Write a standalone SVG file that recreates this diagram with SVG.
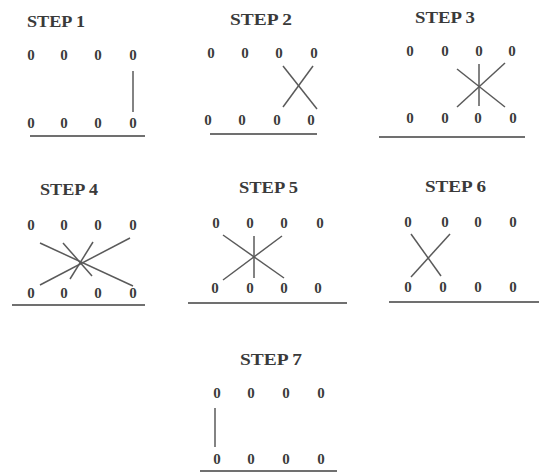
<svg xmlns="http://www.w3.org/2000/svg" width="539" height="472" viewBox="0 0 539 472">
  <style>
    .title { font-family: "Liberation Serif", "Times New Roman", serif; font-weight: bold; font-size: 16px; fill: #3a3a3a; }
    .z { font-family: "Liberation Serif", "Times New Roman", serif; font-weight: bold; font-size: 15px; fill: #3c3c3c; text-anchor: middle; }
    .ln { stroke: #5a5a5a; stroke-width: 1.5; fill: none; }
    .base { stroke: #707070; stroke-width: 2; fill: none; }
  </style>
  <rect width="539" height="472" fill="#fff"/>

  <!-- Step 1 -->
  <g id="step1">
    <text class="title" x="27" y="27" textLength="58" lengthAdjust="spacingAndGlyphs">STEP 1</text>
    <text class="z" x="31" y="60">0</text><text class="z" x="64" y="60">0</text><text class="z" x="98" y="60">0</text><text class="z" x="133" y="60">0</text>
    <text class="z" x="31" y="128">0</text><text class="z" x="64" y="128">0</text><text class="z" x="98" y="128">0</text><text class="z" x="133" y="128">0</text>
    <line class="base" x1="30" y1="136" x2="145" y2="136"/>
  </g>

  <!-- Step 2 -->
  <g id="step2">
    <text class="title" x="230" y="25" textLength="62" lengthAdjust="spacingAndGlyphs">STEP 2</text>
    <text class="z" x="211" y="58">0</text><text class="z" x="245" y="58">0</text><text class="z" x="279" y="58">0</text><text class="z" x="314" y="58">0</text>
    <text class="z" x="208" y="125">0</text><text class="z" x="242" y="125">0</text><text class="z" x="277" y="125">0</text><text class="z" x="311" y="125">0</text>
    <line class="base" x1="210" y1="134" x2="317" y2="134"/>
  </g>

  <!-- Step 3 -->
  <g id="step3">
    <text class="title" x="415" y="23" textLength="60" lengthAdjust="spacingAndGlyphs">STEP 3</text>
    <text class="z" x="410" y="56">0</text><text class="z" x="445" y="56">0</text><text class="z" x="479" y="56">0</text><text class="z" x="512" y="56">0</text>
    <text class="z" x="410" y="123">0</text><text class="z" x="445" y="123">0</text><text class="z" x="478" y="123">0</text><text class="z" x="513" y="123">0</text>
    <line class="base" x1="379" y1="137" x2="525" y2="137"/>
  </g>

  <!-- Step 4 -->
  <g id="step4">
    <text class="title" x="40" y="195" textLength="58" lengthAdjust="spacingAndGlyphs">STEP 4</text>
    <text class="z" x="31" y="230">0</text><text class="z" x="64" y="230">0</text><text class="z" x="98" y="230">0</text><text class="z" x="133" y="230">0</text>
    <text class="z" x="31" y="298">0</text><text class="z" x="64" y="298">0</text><text class="z" x="98" y="298">0</text><text class="z" x="133" y="298">0</text>
    <line class="base" x1="12" y1="305" x2="145" y2="305"/>
  </g>

  <!-- Step 5 -->
  <g id="step5">
    <text class="title" x="239" y="193" textLength="59" lengthAdjust="spacingAndGlyphs">STEP 5</text>
    <text class="z" x="216" y="228">0</text><text class="z" x="250" y="228">0</text><text class="z" x="284" y="228">0</text><text class="z" x="320" y="228">0</text>
    <text class="z" x="215" y="293">0</text><text class="z" x="250" y="293">0</text><text class="z" x="284" y="293">0</text><text class="z" x="318" y="293">0</text>
    <line class="base" x1="188" y1="303" x2="347" y2="303"/>
  </g>

  <!-- Step 6 -->
  <g id="step6">
    <text class="title" x="425" y="192" textLength="61" lengthAdjust="spacingAndGlyphs">STEP 6</text>
    <text class="z" x="408" y="227">0</text><text class="z" x="445" y="227">0</text><text class="z" x="478" y="227">0</text><text class="z" x="513" y="227">0</text>
    <text class="z" x="408" y="292">0</text><text class="z" x="443" y="292">0</text><text class="z" x="478" y="292">0</text><text class="z" x="513" y="292">0</text>
    <line class="base" x1="389" y1="302" x2="539" y2="302"/>
  </g>

  <!-- Step 7 -->
  <g id="step7">
    <text class="title" x="240" y="365" textLength="62" lengthAdjust="spacingAndGlyphs">STEP 7</text>
    <text class="z" x="217" y="398">0</text><text class="z" x="251" y="398">0</text><text class="z" x="286" y="398">0</text><text class="z" x="321" y="398">0</text>
    <text class="z" x="217" y="464">0</text><text class="z" x="251" y="464">0</text><text class="z" x="286" y="464">0</text><text class="z" x="321" y="464">0</text>
    <line class="base" x1="200" y1="471" x2="337" y2="471"/>
  </g>

  <!-- Connectors between the top and bottom rows -->
  <g id="connectors">
    <!-- step 1 -->
    <line class="ln" x1="133" y1="71" x2="133" y2="112" stroke-width="2" stroke="#888"/>
    <!-- step 2 -->
    <line class="ln" x1="283" y1="66" x2="317" y2="109"/>
    <line class="ln" x1="313" y1="66" x2="283" y2="107"/>
    <!-- step 3 -->
    <line class="ln" x1="479" y1="64" x2="479" y2="106"/>
    <line class="ln" x1="457" y1="69" x2="505" y2="107"/>
    <line class="ln" x1="505" y1="63" x2="457" y2="107"/>
    <!-- step 4 -->
    <line class="ln" x1="40" y1="243" x2="133" y2="286"/>
    <line class="ln" x1="130" y1="238" x2="40" y2="285"/>
    <line class="ln" x1="63" y1="243" x2="92" y2="276"/>
    <line class="ln" x1="93" y1="242" x2="70" y2="279"/>
    <!-- step 5 -->
    <line class="ln" x1="254" y1="236" x2="254" y2="278"/>
    <line class="ln" x1="223" y1="235" x2="284" y2="278"/>
    <line class="ln" x1="282" y1="236" x2="223" y2="280"/>
    <!-- step 6 -->
    <line class="ln" x1="411" y1="234" x2="441" y2="276"/>
    <line class="ln" x1="450" y1="234" x2="411" y2="277"/>
    <!-- step 7 -->
    <line class="ln" x1="215" y1="408" x2="215" y2="447" stroke-width="2"/>
  </g>
</svg>
